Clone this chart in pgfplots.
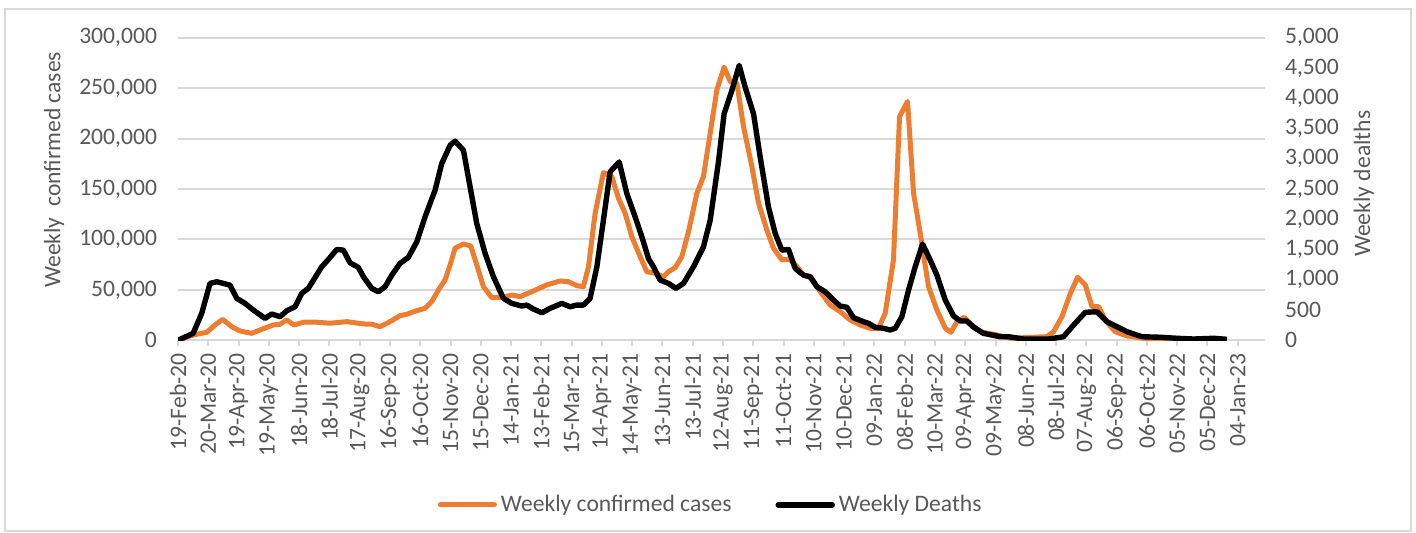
\documentclass[border=0pt]{standalone}
\usepackage{fontspec}
\setmainfont{Carlito}
\usepackage{pgfplots}
\pgfplotsset{compat=1.18}
\definecolor{cOrange}{HTML}{ED7D31}
\definecolor{cGrid}{HTML}{D9D9D9}
\definecolor{cText}{HTML}{595959}
\newcommand\cf{\fontsize{11.8pt}{14pt}\selectfont}
\begin{document}
\begin{tikzpicture}
\path[use as bounding box] (0,0) rectangle (708pt,266.5pt);
\draw[cGrid, line width=0.6pt] (2.5pt,1pt) rectangle (705.5pt,262pt);
\begin{axis}[
  at={(89pt,96.35pt)}, anchor=south west,
  scale only axis, width=543.5pt, height=151.3pt,
  xmin=0, xmax=1077, ymin=0, ymax=300000,
  /pgf/number format/fixed,
  /pgf/number format/assume math mode=true,
  /pgf/number format/1000 sep={,},
  axis x line*=bottom, axis y line*=left,
  x axis line style={cGrid, line width=1pt, -},
  y axis line style={draw=none},
  ymajorgrids, grid style={cGrid, line width=1pt},
  xtick={0,30,...,1050},
  xticklabels={19-Feb-20,20-Mar-20,19-Apr-20,19-May-20,18-Jun-20,18-Jul-20,17-Aug-20,16-Sep-20,16-Oct-20,15-Nov-20,15-Dec-20,14-Jan-21,13-Feb-21,15-Mar-21,14-Apr-21,14-May-21,13-Jun-21,13-Jul-21,12-Aug-21,11-Sep-21,11-Oct-21,10-Nov-21,10-Dec-21,09-Jan-22,08-Feb-22,10-Mar-22,09-Apr-22,09-May-22,08-Jun-22,08-Jul-22,07-Aug-22,06-Sep-22,06-Oct-22,05-Nov-22,05-Dec-22,04-Jan-23},
  tick align=outside, major tick length=3pt,
  xtick style={cGrid, line width=1pt},
  ytick style={draw=none},
  xticklabel style={font=\cf, text=cText, rotate=90, anchor=east},
  ytick={0,50000,...,300000},
  scaled y ticks=false,
  yticklabel style={font=\cf, text=cText, anchor=east, xshift=-4pt},
  ylabel={Weekly~ confirmed cases},
  ylabel style={font=\cf, text=cText, at={(axis description cs:-0.114,0.563)}, anchor=center},
]
\addplot[cOrange, line width=2.5pt, line join=round] coordinates {
(0,0) (15.2,5300) (28.4,7900) (36.7,15200) (44.3,20800) (53.2,13500) (61.4,9200) (73,6900) (83,10900) (94.4,15200) (101.1,15900) (107.7,20100) (115,15200) (124.2,17900) (137.5,17900) (150.6,16900) (167.2,18500) (183.7,16200) (192,15900) (200.2,13500) (210.1,18500) (220,24400) (226.7,25800) (236.6,29400) (244.8,31700) (251.4,38300) (258,49900) (264.6,59800) (269.6,74700) (274.5,91300) (282.8,95500) (290.1,93500) (296,74700) (302.6,53200) (310.9,42300) (322.4,42700) (330.7,44900) (339,43300) (350.5,48200) (365.4,54900) (378.6,58800) (386.8,58100) (395.1,54200) (401.7,53200) (406.7,73000) (413.3,126000) (421.5,166300) (429.8,162300) (436.4,140900) (443,126000) (449.6,102800) (457.9,82900) (464.5,68000) (472.7,66500) (480.9,63100) (485.9,68000) (492.6,72000) (499.2,82900) (505.8,107700) (514.1,145800) (520.6,162300) (527.3,205300) (533.9,248300) (541.1,270800) (547.1,256500) (553.7,254900) (560.3,211900) (568.6,172200) (575.2,135900) (583.4,109400) (590,91300) (598.3,79700) (605.8,80400) (613.2,73000) (619.7,64800) (627.9,61500) (636.3,48200) (646.2,35000) (656.1,28400) (666,20100) (675.9,15200) (685.8,11900) (694,11900) (700.7,26800) (708.9,79700) (714.9,221800) (722.8,236700) (728.8,145800) (735.4,106100) (743.6,53200) (751.9,30100) (760.2,11900) (765.8,7900) (771.8,18500) (779,22800) (786.6,15200) (794.8,8500) (811.4,5300) (824.6,2000) (860.9,3600) (867.5,8500) (875.8,23400) (884.2,46600) (891.3,62500) (898.9,54900) (905.6,33300) (912.1,33300) (918.7,20100) (928.6,8500) (940.3,4300) (956.7,2000) (989.8,1000) (1029.5,1000)
};
\end{axis}
\begin{axis}[
  at={(89pt,96.35pt)}, anchor=south west,
  scale only axis, width=543.5pt, height=151.3pt,
  xmin=0, xmax=1077, ymin=0, ymax=5000,
  /pgf/number format/fixed,
  /pgf/number format/assume math mode=true,
  /pgf/number format/1000 sep={,},
  axis x line=none, axis y line*=right,
  y axis line style={draw=none},
  ytick={0,500,...,5000},
  ytick style={draw=none},
  scaled y ticks=false,
  yticklabel style={font=\cf, text=cText, anchor=west, xshift=6.5pt},
  ylabel={Weekly dealths},
  ylabel style={font=\cf, text=cText, at={(axis description cs:1.091,0.517)}, anchor=center},
  legend style={at={(axis description cs:0.491,-0.544)}, anchor=center, draw=none, fill=none,
    font=\cf, text=cText, legend columns=2, /tikz/every even column/.append style={column sep=20pt}},
  legend image code/.code={\draw[#1, line cap=round] (0pt,0pt) -- (27pt,0pt);},
]
\addlegendimage{cOrange, line width=2.5pt}
\addlegendentry{Weekly confirmed cases}
\addplot[black, line width=2.7pt, line join=round] coordinates {
(0,0) (15,115) (23.5,445) (31.7,940) (38.4,967) (51.5,912) (58.2,693) (66.4,610) (74.6,500) (86.2,363) (92.9,434) (101.1,390) (107.7,488) (116,554) (122.6,775) (129.1,858) (142.4,1214) (149,1336) (157.3,1500) (163.8,1490) (170.5,1280) (178.7,1204) (183.7,1050) (192,858) (198.5,802) (205.2,885) (211.8,1077) (220,1270) (228.2,1370) (236.6,1627) (244.8,2040) (254.7,2480) (261.3,2920) (269.6,3222) (274.5,3290) (282.8,3140) (289.4,2535) (296,1930) (304.3,1435) (312.5,1050) (322.4,693) (330.7,610) (340.6,566) (345.6,582) (352.1,516) (360.5,455) (368.7,528) (380.3,610) (388.5,554) (395.1,582) (401.7,582) (408.3,693) (415,1214) (421.5,1985) (428.1,2782) (437.1,2947) (444.7,2425) (452.9,2040) (459.6,1709) (466.1,1353) (471.1,1214) (477.7,995) (485.9,940) (493.3,858) (500.8,940) (510.7,1214) (520.6,1544) (527.3,1985) (535.5,2950) (541.1,3745) (548.8,4130) (556,4542) (561.9,4185) (570.2,3745) (576.8,3030) (585,2204) (591.7,1766) (598.3,1490) (604.9,1500) (611.5,1188) (619.7,1077) (626.4,1050) (633,885) (641.2,802) (649.5,665) (656.1,566) (662.7,545) (669.3,373) (679.2,307) (684.1,281) (690.8,215) (699,198) (705.6,170) (710.6,198) (717.2,390) (723.8,830) (730.4,1214) (737.7,1590) (745.3,1325) (751.9,1077) (760.2,665) (768.4,401) (775,320) (781.6,318) (788,220) (798.1,115) (814.7,59) (822.9,59) (837.8,21) (862.6,21) (877.4,59) (887.3,252) (898.9,462) (910.5,472) (920.4,307) (930.3,224) (940.3,142) (955.1,59) (973.3,50) (989.8,33) (1006.2,21) (1026,33) (1039.3,16)
};
\addlegendentry{Weekly Deaths}
\end{axis}
\end{tikzpicture}
\end{document}
